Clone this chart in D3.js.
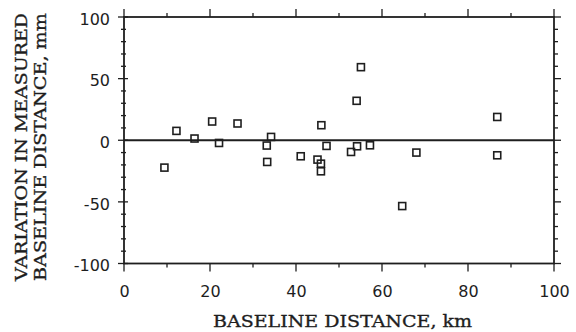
<!DOCTYPE html>
<html>
<head>
<meta charset="utf-8">
<script src="https://cdn.jsdelivr.net/npm/d3@7"></script>
<style>
  html, body { margin: 0; padding: 0; background: #fff; }
  svg { display: block; }
</style>
</head>
<body>
<svg id="chart" width="576" height="332"></svg>
<script>
// Baseline distance (km) and variation in measured distance (mm)
const distanceKm = [9.4, 12.2, 16.4, 20.5, 22.1, 26.4, 33.2, 34.2, 33.3, 41.1, 45.0, 45.8,
                    45.8, 45.9, 47.1, 52.8, 54.1, 54.2, 55.1, 57.2, 64.7, 68.0, 86.8, 86.8];
const variationMm = [-22.2, 7.6, 1.4, 15.2, -2.2, 13.6, -4.3, 2.7, -17.6, -13.0, -15.7, -19.0,
                     -25.2, 12.2, -4.6, -9.5, 32.0, -4.9, 59.3, -4.1, -53.4, -10.0, 18.9, -12.2];

const xTicks = [0, 20, 40, 60, 80, 100];
const yTicks = [-100, -50, 0, 50, 100];
const xMinor = d3.range(0, 101, 10);
const yMinor = d3.range(-100, 101, 10);

const xTitle = "BASELINE DISTANCE, km";
const yTitleLines = ["VARIATION IN MEASURED", "BASELINE DISTANCE, mm"];

const ink = "#1e1e1e";
const titleFont = "DejaVu Serif";
const svg = d3.select("#chart");
const plotLeft = 124, plotRight = 554, plotTop = 17, plotBottom = 263.5;

const x = d3.scaleLinear().domain([0, 100]).range([plotLeft, plotRight]);
const y = d3.scaleLinear().domain([-100, 100]).range([plotBottom, plotTop]);

// Frame tick marks: longer at labelled values, short at every 10 units
function tickLen(v, majors, big, small) { return majors.includes(v) ? big : small; }

const g = svg.append("g");

// top axis: ticks pointing up
g.append("g").selectAll("line").data(xMinor).join("line")
  .attr("x1", d => x(d)).attr("x2", d => x(d))
  .attr("y1", plotTop).attr("y2", d => plotTop - tickLen(d, xTicks, 8, 4))
  .attr("stroke", ink).attr("stroke-width", 1.3);
// bottom axis: ticks pointing down
g.append("g").selectAll("line").data(xMinor).join("line")
  .attr("x1", d => x(d)).attr("x2", d => x(d))
  .attr("y1", plotBottom).attr("y2", d => plotBottom + tickLen(d, xTicks, 8, 4))
  .attr("stroke", ink).attr("stroke-width", 1.3);
// left axis: ticks crossing the line
g.append("g").selectAll("line").data(yMinor).join("line")
  .attr("y1", d => y(d)).attr("y2", d => y(d))
  .attr("x1", d => plotLeft - tickLen(d, yTicks, 6, 3)).attr("x2", d => plotLeft + tickLen(d, yTicks, 4, 2))
  .attr("stroke", ink).attr("stroke-width", 1.3);
// right axis: ticks pointing right
g.append("g").selectAll("line").data(yMinor).join("line")
  .attr("y1", d => y(d)).attr("y2", d => y(d))
  .attr("x1", plotRight).attr("x2", d => plotRight + tickLen(d, yTicks, 7, 4))
  .attr("stroke", ink).attr("stroke-width", 1.3);

// frame
g.append("rect")
  .attr("x", plotLeft).attr("y", plotTop)
  .attr("width", plotRight - plotLeft).attr("height", plotBottom - plotTop)
  .attr("fill", "none").attr("stroke", ink).attr("stroke-width", 1.8);

// zero reference line
g.append("line")
  .attr("x1", x(0)).attr("x2", x(100))
  .attr("y1", y(0)).attr("y2", y(0))
  .attr("stroke", ink).attr("stroke-width", 1.8);

// tick labels through D3 axes (lines hidden, labels only)
const xAxis = d3.axisBottom(x).tickValues(xTicks).tickSize(0).tickPadding(0).tickFormat(d3.format("d"));
const xa = svg.append("g").attr("transform", `translate(0,${plotBottom})`).call(xAxis);
xa.select(".domain").remove();
xa.selectAll("text")
  .attr("y", 33).attr("dy", null)
  .attr("font-family", "DejaVu Sans").attr("font-size", 16).attr("fill", ink);

const yAxis = d3.axisLeft(y).tickValues(yTicks).tickSize(0).tickPadding(0).tickFormat(d => String(d));
const ya = svg.append("g").attr("transform", `translate(${plotLeft},0)`).call(yAxis);
ya.select(".domain").remove();
ya.selectAll("text")
  .attr("x", -14).attr("dy", "0.45em")
  .attr("font-family", "DejaVu Sans").attr("font-size", 16).attr("fill", ink);

// points: hollow squares
const s = 7;
svg.append("g").selectAll("rect").data(distanceKm).join("rect")
  .attr("x", d => x(d) - s / 2)
  .attr("y", (d, i) => y(variationMm[i]) - s / 2)
  .attr("width", s).attr("height", s)
  .attr("fill", "none").attr("stroke", ink).attr("stroke-width", 1.6);

// axis titles
svg.append("text")
  .attr("x", 342.5).attr("y", 327)
  .attr("text-anchor", "middle")
  .attr("font-family", titleFont).attr("font-size", 17).attr("fill", ink)
  .attr("stroke", ink).attr("stroke-width", 0.35)
  .attr("textLength", 259).attr("lengthAdjust", "spacingAndGlyphs")
  .text(xTitle);

const yt = svg.append("g").attr("transform", "translate(0,147) rotate(-90)");
yt.selectAll("text").data(yTitleLines).join("text")
  .attr("x", 0).attr("y", (d, i) => 27 + i * 19)
  .attr("text-anchor", "middle")
  .attr("font-family", titleFont).attr("font-size", 17).attr("fill", ink)
  .attr("stroke", ink).attr("stroke-width", 0.35)
  .attr("textLength", 268).attr("lengthAdjust", "spacingAndGlyphs")
  .text(d => d);
</script>
</body>
</html>
